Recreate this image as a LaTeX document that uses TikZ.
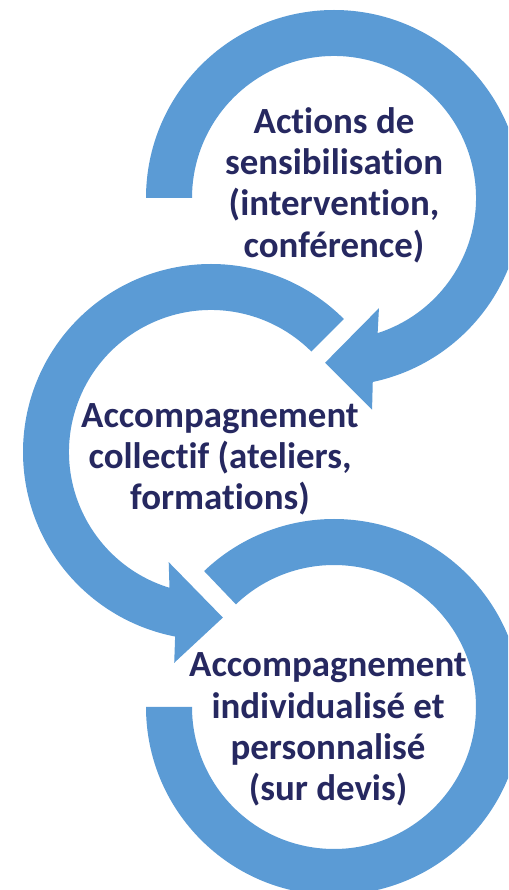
\documentclass[tikz,border=0pt]{standalone}
\usepackage{fontspec}
\setmainfont{Carlito}[Ligatures={NoCommon}]
\definecolor{ringblue}{RGB}{91,155,213}
\definecolor{textnavy}{RGB}{38,40,96}
\tikzset{
	ring/.style={fill=ringblue},
	stage/.style={text=textnavy, font=\bfseries\fontsize{21}{23.5}\selectfont, align=center, inner sep=0pt}
}
\begin{document}
\begin{tikzpicture}[x=0.02cm, y=0.02cm]
	\clip (0,0) rectangle (508,890);
	% erster Ring mit Pfeil
	\begin{scope}[shift={(334,692)}]
		\fill[ring] (180:188) arc[start angle=180, end angle=-78.1, radius=188] -- (-79.8:215) -- (-93.1:165) -- (-67.8:119) -- (-72.1:142) arc[start angle=-72.1, end angle=180, radius=142] -- cycle;
	\end{scope}
	% zweiter Ring mit Pfeil
	\begin{scope}[shift={(211,438)}]
		\fill[ring] (45:188) arc[start angle=45, end angle=259, radius=188] -- (260.1:214) -- (274.1:166) -- (249:118) -- (253:142) arc[start angle=253, end angle=45, radius=142] -- cycle;
	\end{scope}
	% dritter Ring
	\begin{scope}[shift={(334,183)}]
		\fill[ring] (180:188) arc[start angle=180, end angle=493.7, radius=188] -- (493.7:142) arc[start angle=493.7, end angle=180, radius=142] -- cycle;
	\end{scope}
	% Beschriftung
	\node[stage] (sensib) at (334,705) {Actions de\\sensibilisation\\(intervention,\\conférence)};
	\node[stage] (collectif) at (220,430.5) {Accompagnement\\collectif (ateliers,\\formations)};
	\node[stage] (individuel) at (328,160.5) {Accompagnement\\individualisé et\\personnalisé\\(sur devis)};
\end{tikzpicture}
\end{document}
